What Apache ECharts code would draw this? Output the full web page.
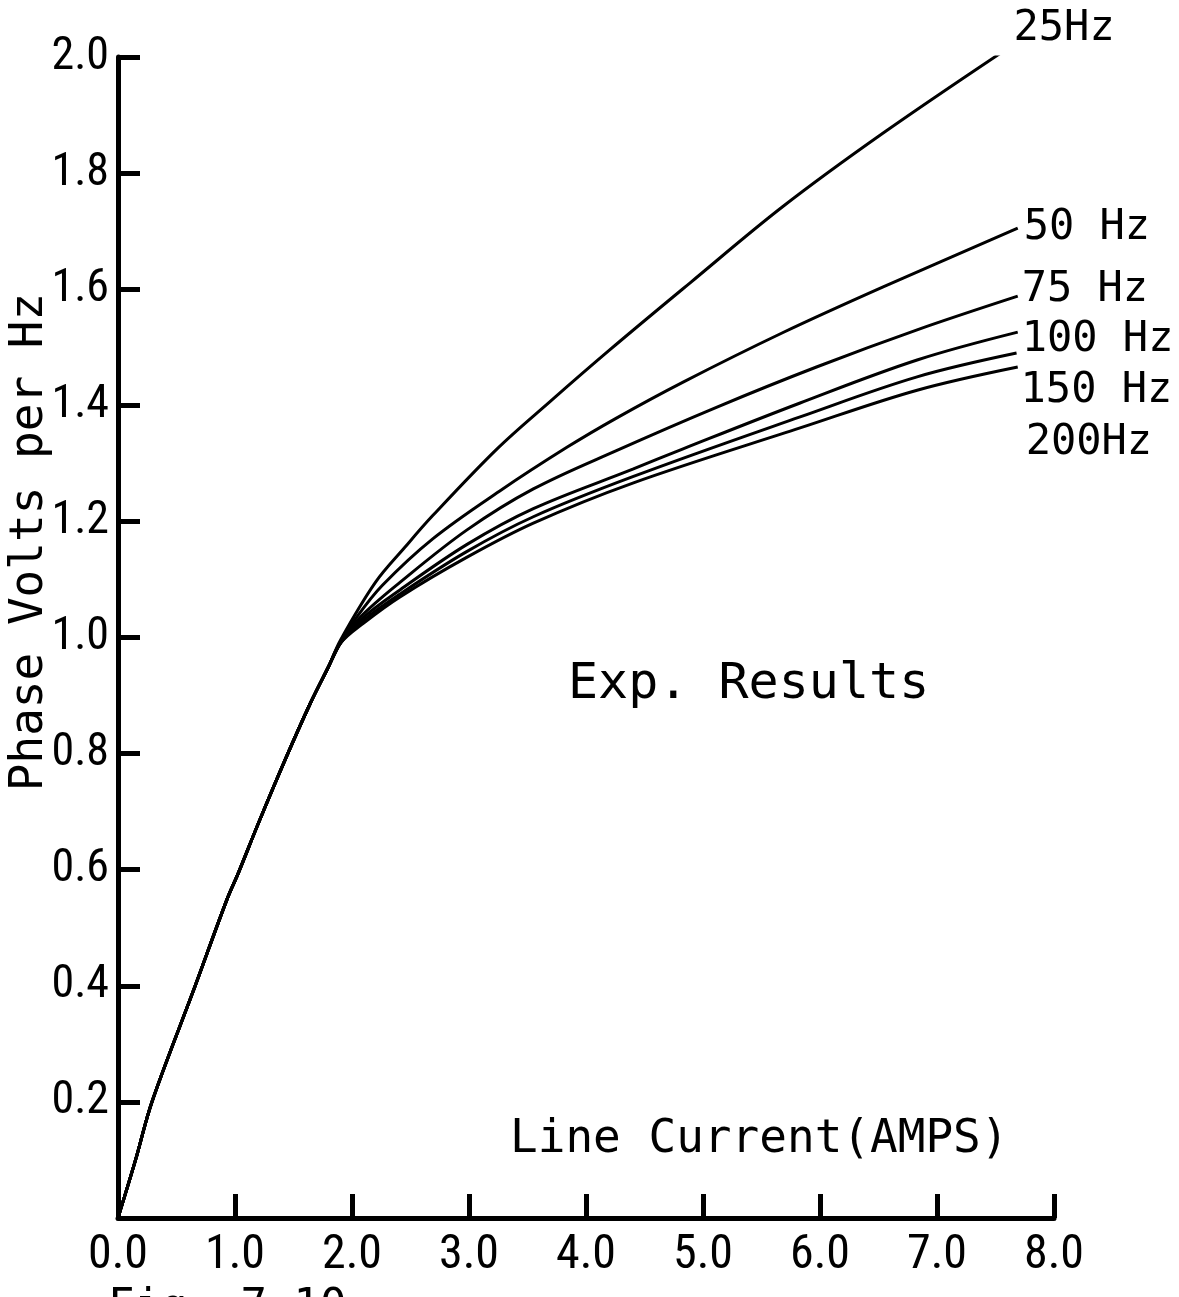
<!DOCTYPE html>
<html>
<head>
<meta charset="utf-8">
<style>html,body{margin:0;padding:0;background:#fff}#c{width:1179px;height:1297px}</style>
<script src="https://cdn.jsdelivr.net/npm/echarts@6/dist/echarts.min.js"></script>
</head>
<body>
<div id="c"></div>
<script>
// shared initial part of every curve (Line Current, Phase Volts per Hz)
const trunkX = [0, 0.15, 0.29, 0.66, 0.93, 1.03, 1.2, 1.43, 1.64, 1.8];
const trunkY = [0, 0.10, 0.20, 0.40, 0.548, 0.595, 0.68, 0.79, 0.885, 0.95];

const hz25X = [1.9, 2.2, 2.45, 2.69, 3.24, 3.69, 4.2, 4.89, 5.68, 6.54, 7.62];
const hz25Y = [0.995, 1.095, 1.155, 1.21, 1.325, 1.406, 1.495, 1.611, 1.742, 1.869, 2.017];
const hz50X = [1.9, 2.04, 2.26, 2.69, 3.26, 3.84, 4.26, 4.83, 5.68, 6.54, 7.69];
const hz50Y = [0.99, 1.035, 1.09, 1.17, 1.252, 1.328, 1.378, 1.44, 1.525, 1.604, 1.705];
const hz75X = [1.9, 2.07, 2.41, 2.98, 3.55, 4.26, 5.12, 5.97, 6.83, 7.69];
const hz75Y = [0.99, 1.035, 1.095, 1.185, 1.256, 1.322, 1.397, 1.466, 1.53, 1.588];
const hz100X = [1.9, 2.1, 2.41, 2.98, 3.55, 4.4, 4.83, 5.83, 6.83, 7.69];
const hz100Y = [0.99, 1.035, 1.082, 1.16, 1.222, 1.29, 1.325, 1.404, 1.478, 1.526];
const hz150X = [1.9, 2.1, 2.41, 2.98, 3.55, 4.4, 5.83, 6.83, 7.68];
const hz150Y = [0.99, 1.03, 1.075, 1.148, 1.208, 1.277, 1.38, 1.449, 1.49];
const hz200X = [1.9, 2.1, 2.41, 2.98, 3.55, 4.4, 5.83, 6.83, 7.69];
const hz200Y = [0.99, 1.025, 1.07, 1.138, 1.197, 1.266, 1.361, 1.426, 1.466];

const seriesNames = ['25Hz', '50 Hz', '75 Hz', '100 Hz', '150 Hz', '200Hz'];
const xTicks = ['0.0','1.0','2.0','3.0','4.0','5.0','6.0','7.0','8.0'];
const yTicks = ['','0.2','0.4','0.6','0.8','1.0','1.2','1.4','1.6','1.8','2.0'];

const branches = [[hz25X,hz25Y],[hz50X,hz50Y],[hz75X,hz75Y],[hz100X,hz100Y],[hz150X,hz150Y],[hz200X,hz200Y]];
const labelOffsets = [[2,-18],[4,0],[2,-6],[2,8],[2,38],[6,76]];

const tickFont = "'Liberation Sans Narrow','Roboto Condensed','DejaVu Sans Condensed',sans-serif";
const textFont = "'DejaVu Sans Mono','Liberation Mono',monospace";

function pts(bx, by) {
  const d = [];
  for (let i = 0; i < trunkX.length; i++) d.push([trunkX[i], trunkY[i]]);
  for (let i = 0; i < bx.length; i++) d.push([bx[i], by[i]]);
  return d;
}

const series = branches.map((b, i) => ({
  name: seriesNames[i],
  type: 'line',
  data: pts(b[0], b[1]),
  smooth: 0.35,
  showSymbol: false,
  symbol: 'none',
  silent: true,
  lineStyle: { color: '#000', width: 3 },
  endLabel: {
    show: true,
    formatter: '{a}',
    color: '#000',
    fontSize: 42,
    fontFamily: textFont,
    distance: 2,
    offset: labelOffsets[i]
  }
}));

const chart = echarts.init(document.getElementById('c'), null, { renderer: 'canvas' });
chart.setOption({
  backgroundColor: '#fff',
  animation: false,
  grid: { left: 118, right: 125, top: 57, bottom: 79, containLabel: false },
  xAxis: {
    type: 'value', min: 0, max: 8, interval: 1,
    axisLine: { show: true, lineStyle: { color: '#000', width: 5 } },
    axisTick: { show: true, inside: true, length: 24, lineStyle: { color: '#000', width: 5 } },
    axisLabel: { color: '#000', fontSize: 48, fontFamily: tickFont, margin: 14,
      formatter: (v) => xTicks[Math.round(v)] },
    splitLine: { show: false }
  },
  yAxis: {
    type: 'value', min: 0, max: 2.0, interval: 0.2,
    axisLine: { show: true, lineStyle: { color: '#000', width: 5 } },
    axisTick: { show: true, inside: true, length: 22, lineStyle: { color: '#000', width: 5 } },
    axisLabel: { color: '#000', fontSize: 46, fontFamily: tickFont, margin: 9,
      formatter: (v) => yTicks[Math.round(v / 0.2)] },
    splitLine: { show: false }
  },
  series: series,
  graphic: [
    { type: 'text', x: 30, y: 542, rotation: Math.PI / 2,
      style: { text: 'Phase Volts per Hz', fill: '#000', font: "46px " + textFont,
        textAlign: 'center', textVerticalAlign: 'middle', align: 'center', verticalAlign: 'middle' } },
    { type: 'text', x: 568, y: 685,
      style: { text: 'Exp. Results', fill: '#000', font: "50px " + textFont,
        textAlign: 'left', textVerticalAlign: 'middle', align: 'left', verticalAlign: 'middle' } },
    { type: 'text', x: 510, y: 1140,
      style: { text: 'Line Current(AMPS)', fill: '#000', font: "46px " + textFont,
        textAlign: 'left', textVerticalAlign: 'middle', align: 'left', verticalAlign: 'middle' } },
    { type: 'text', x: 108, y: 1287,
      style: { text: 'Fig. 7.10', fill: '#000', font: "44px " + textFont,
        textAlign: 'left', textVerticalAlign: 'top', align: 'left', verticalAlign: 'top' } }
  ]
});
</script>
</body>
</html>
